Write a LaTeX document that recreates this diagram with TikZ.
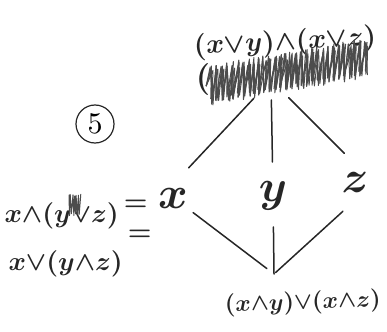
\documentclass[tikz,border=0pt]{standalone}
\usetikzlibrary{calc}
\begin{document}
\begin{tikzpicture}[x=1pt,y=-1pt,line cap=round,line join=round,
  edge/.style={line width=1.5pt,draw=black!85},
  lbl/.style={inner sep=0pt,text=black!85,font=\boldmath},
  scrib/.style={line width=1pt,draw=black!70}]
\useasboundingbox (0,0) rectangle (387,331);
% lattice vertices
\coordinate (vt) at (271,80);
\coordinate (vx) at (166,192);
\coordinate (vy) at (273,192);
\coordinate (vz) at (374,183);
\coordinate (vb) at (274,274);
% labels
\node[lbl,scale=2.75,rotate=3] (top) at (285,43) {$(x{\vee}y){\wedge}(x{\vee}z)$};
\node[lbl,scale=3.2] (lp) at (203,80) {$($};
\node[lbl,scale=4.5] (x) at (173,198) {$x$};
\node[lbl,scale=4.5] (y) at (273,196) {$y$};
\node[lbl,scale=4.5] (z) at (355,182) {$z$};
\node[lbl,scale=2.35,rotate=2,anchor=base] (bot) at (303,309) {$(x{\wedge}y){\vee}(x{\wedge}z)$};
\node[lbl,scale=2.65,anchor=base west] (eq1) at (4,222) {$x{\wedge}(y{\vee}z)\,\raisebox{4.5pt}{$=$}$};
\node[lbl,scale=2.65,anchor=base west] (eq2) at (8,270) {$x{\vee}(y{\wedge}z)\,\raisebox{11pt}{$=$}$};
\node[draw=black!85,line width=1.2pt,circle,minimum size=38pt,inner sep=0pt] (five) at (95,124) {\scalebox{3}{5}};
% scribble over second line of top label
\pgfmathsetseed{7}
\begin{scope}[shift={(285,72)},rotate=10]
  \foreach \p/\h in {0/16,1/13,2/11,3/15}{
    \draw[scrib] (-80,0) \foreach \i in {1,...,60}{ -- ({-80+\i*2.7+ifthenelse(isodd(\i),4,-4)+3*rnd},{ifthenelse(isodd(\i),-1,1)*(\h+4*rnd)}) };
  }
\end{scope}
% small scribble in left label
\begin{scope}[shift={(74,205)}]
  \draw[scrib] (-5,-10) \foreach \i in {1,...,12}{ -- ({-6+\i+rnd},{ifthenelse(isodd(\i),1,-1)*(8+3*rnd)}) };
\end{scope}
% connectors
\draw[edge,shorten <=25pt,shorten >=33pt] (vt) -- (vx);
\draw[edge,shorten <=20pt,shorten >=30pt] (vt) -- (vy);
\draw[edge,shorten <=25pt,shorten >=42pt] (vt) -- (vz);
\draw[edge,shorten <=34pt,shorten >=9pt] (vx) -- (vb);
\draw[edge,shorten <=35pt,shorten >=0pt] (vy) -- (vb);
\draw[edge,shorten <=42pt,shorten >=2pt] (vz) -- (vb);
\end{tikzpicture}
\end{document}
